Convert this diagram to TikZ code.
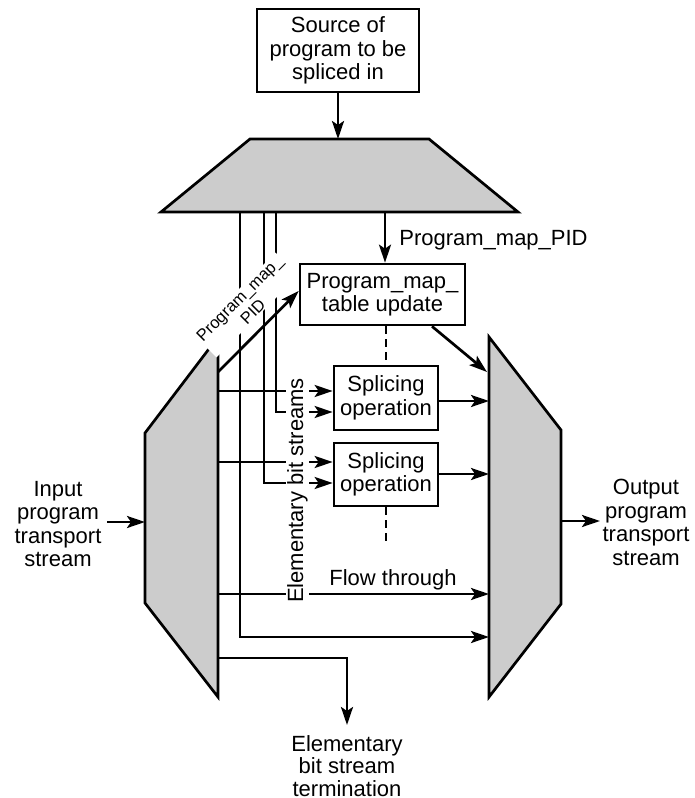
\documentclass[tikz,border=0pt]{standalone}
\usepackage{fontspec}
\setmainfont{Liberation Sans}
\usetikzlibrary{arrows.meta,calc}
\begin{document}
\begin{tikzpicture}[x=1pt,y=-1pt,line width=2.7pt,line join=miter,
  arr/.style={-{Stealth[length=18pt,width=12pt,inset=4pt]}},
  big/.style={font=\fontsize{22}{23.5}\selectfont},
  box/.style={big,draw,align=center,inner sep=0pt},
  lbl/.style={big,align=center,inner sep=0pt},
  blk/.style={draw,fill=black!20},
  dashline/.style={dash pattern=on 8pt off 5pt}]
\useasboundingbox (0,0) rectangle (695,798);

% mixer, demultiplexer and multiplexer blocks
\draw[blk] (250,139) -- (429,139) -- (518,212) -- (161,212) -- cycle;
\draw[blk] (218,337) -- (145,433) -- (145,603) -- (218,697) -- cycle;
\draw[blk] (489,337) -- (561,430) -- (561,604) -- (489,697) -- cycle;

% boxes
\node[box,minimum width=162pt,minimum height=83pt] (src) at (338,50.5)
  {Source of\\program to be\\spliced in};
\node[box,minimum width=165pt,minimum height=61pt] (pmt) at (382.5,294.5)
  {Program\_map\_\\table update};
\node[box,minimum width=104pt,minimum height=64pt] (s1) at (386,398)
  {Splicing\\operation};
\node[box,minimum width=104pt,minimum height=63pt] (s2) at (386,474.5)
  {Splicing\\operation};

% connection points on the blocks
\coordinate (mxTop) at (338,139);
\coordinate (mxA) at (240,212);
\coordinate (mxB) at (264,212);
\coordinate (mxC) at (276,212);
\coordinate (mxD) at (385,212);
\coordinate (dmIn) at (145,522);
\coordinate (dmDiag) at (218,372);
\coordinate (dmS1) at (218,391);
\coordinate (dmS2) at (218,462);
\coordinate (dmFlow) at (218,594);
\coordinate (dmTerm) at (218,658);
\coordinate (muPmt) at (487,372);
\coordinate (muS1) at (489,401);
\coordinate (muS2) at (489,474);
\coordinate (muFlow) at (489,594);
\coordinate (muPid) at (489,637);
\coordinate (muOut) at (561,521);
\coordinate (inTail) at (107,522);
\coordinate (outTip) at (600,521);

% labels
\node[lbl,anchor=north] (inlbl) at (58,480) {Input\\program\\transport\\stream};
\node[lbl,anchor=north] (outlbl) at (646,478) {Output\\program\\transport\\stream};
\node[lbl,anchor=north,font=\fontsize{22}{22.5}\selectfont] (term) at (347,734)
  {Elementary\\bit stream\\termination};
\node[lbl,anchor=base west] (pmpid) at (398,245) {Program\_map\_PID};
\node[lbl,anchor=base] (flow) at (393,585) {Flow through};

% signal paths
\draw[arr] (src.south -| mxTop) -- (mxTop);
\draw[arr] (mxD) -- (mxD |- pmt.north);
\draw[arr] (mxA) |- (muPid);
\draw[arr] (mxB) |- ($(s2.west)+(0,8.5)$);
\draw[arr] (mxC) |- ($(s1.west)+(0,14)$);
\draw[arr] (dmS1) -- (dmS1 -| s1.west);
\draw[arr] (dmS2) -- (dmS2 -| s2.west);
\draw[arr] (s1.east |- muS1) -- (muS1);
\draw[arr] (s2.east |- muS2) -- (muS2);
\draw[arr] (dmFlow) -- (muFlow);
\draw[arr] (dmTerm) -| ($(term.north)+(0,-9)$);
\draw[arr] (inTail) -- (dmIn);
\draw[arr] (muOut) -- (outTip);
\draw[arr] ($(pmt.south)+(49.5,0)$) -- (muPmt);
\draw[dashline] (s1.north |- pmt.south) -- (s1.north);
\draw[dashline] (s2.south) -- ++(0,36);

% rotated labels over the lines
\node[rotate=45,fill=white,inner sep=1pt,align=center,
  font=\fontsize{16.5}{19}\selectfont] (pidlbl) at (246,305) {Program\_map\_\\PID};
\node[big,rotate=90,fill=white,inner sep=1pt,anchor=base] (esl) at (303,490.5)
  {Elementary bit streams};

\draw[arr] (dmDiag) -- ($(pmt.west)+(0,-3.5)$);
\end{tikzpicture}
\end{document}
